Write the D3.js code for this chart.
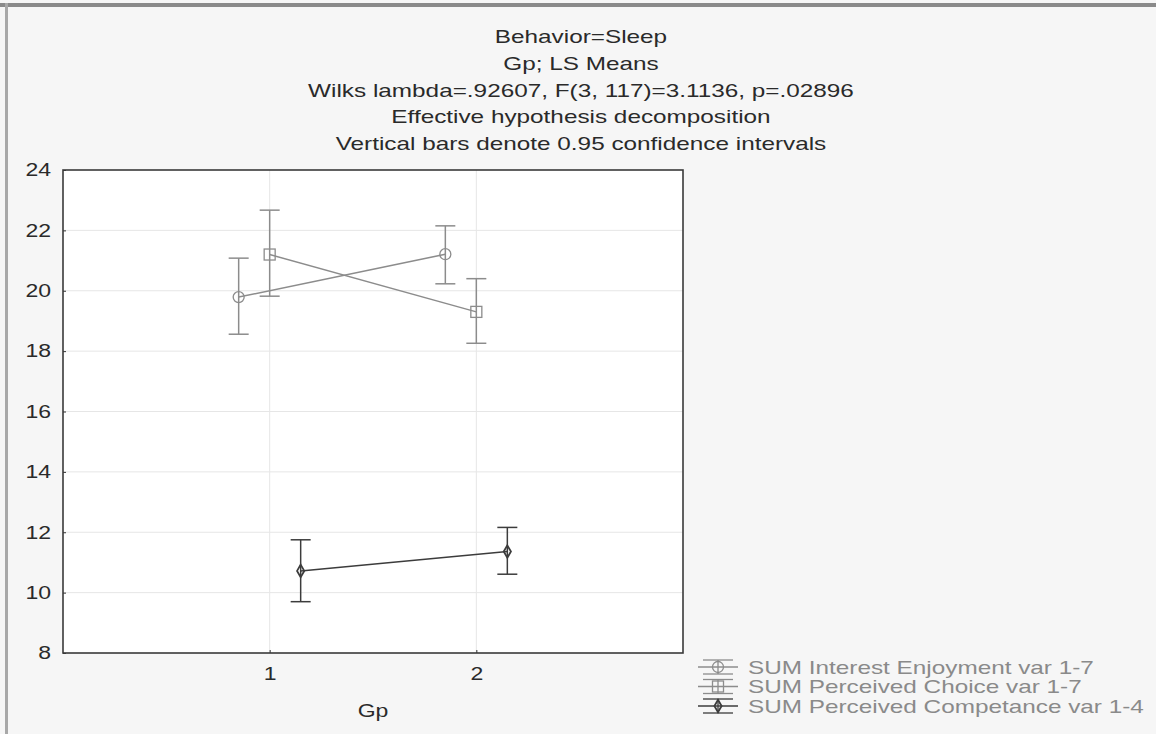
<!DOCTYPE html>
<html>
<head>
<meta charset="utf-8">
<script src="https://cdn.jsdelivr.net/npm/d3@7"></script>
<style>
  body { margin: 0; background: #f6f6f6; }
  svg { display: block; font-family: "Liberation Sans", Arial, sans-serif; }
</style>
</head>
<body>
<div id="chart"></div>
<script>
// LS means by group, with 0.95 confidence limits
const groups = [1, 2];
const seriesNames = ["SUM Interest Enjoyment var 1-7", "SUM Perceived Choice var 1-7", "SUM Perceived Competance var 1-4"];
const interestMean = [19.79, 21.21];
const interestLow = [18.56, 20.23];
const interestHigh = [21.08, 22.15];
const choiceMean = [21.20, 19.30];
const choiceLow = [19.82, 18.26];
const choiceHigh = [22.67, 20.40];
const compMean = [10.72, 11.36];
const compLow = [9.70, 10.61];
const compHigh = [11.75, 12.16];
const yTicks = [8, 10, 12, 14, 16, 18, 20, 22, 24];
const titleLines = [
  "Behavior=Sleep",
  "Gp; LS Means",
  "Wilks lambda=.92607, F(3, 117)=3.1136, p=.02896",
  "Effective hypothesis decomposition",
  "Vertical bars denote 0.95 confidence intervals"
];

const W = 1156, H = 734;
const margin = {top: 170, right: 473, bottom: 81, left: 63};
const width = W - margin.left - margin.right;
const height = H - margin.top - margin.bottom;
const stretch = 1.28; // the picture's text is wider than it is tall

const series = [
  {name: seriesNames[0], mean: interestMean, lo: interestLow, hi: interestHigh, off: -0.15, shape: "circle", color: "#8c8c8c"},
  {name: seriesNames[1], mean: choiceMean, lo: choiceLow, hi: choiceHigh, off: 0, shape: "square", color: "#8c8c8c"},
  {name: seriesNames[2], mean: compMean, lo: compLow, hi: compHigh, off: 0.15, shape: "diamond", color: "#3c3c3c"}
];

// widen a text element around its own anchor point
function widen(sel, x) {
  sel.attr("x", x / stretch).attr("transform", "scale(" + stretch + ",1)");
}

const root = d3.select("#chart").append("svg")
  .attr("width", W).attr("height", H);

// outer frame
root.append("rect").attr("x", 0).attr("y", 0).attr("width", W).attr("height", H).attr("fill", "#f6f6f6");
root.append("rect").attr("x", 0).attr("y", 3).attr("width", W).attr("height", 4).attr("fill", "#8a8a8a");
root.append("rect").attr("x", 5).attr("y", 3).attr("width", 3).attr("height", H).attr("fill", "#a8a8a8");

// title
root.append("g").selectAll("text")
  .data(titleLines)
  .enter().append("text")
  .attr("y", (d, i) => 43 + i * 26.8)
  .attr("text-anchor", "middle")
  .attr("font-size", 19)
  .attr("fill", "#2a2a2a")
  .text(d => d)
  .call(widen, 581);

const svg = root.append("g")
  .attr("transform", "translate(" + margin.left + "," + margin.top + ")");

const xScale = d3.scaleLinear().domain([0, 3]).range([0, width]);
const yScale = d3.scaleLinear().domain([8, 24]).range([height, 0]);

svg.append("rect").attr("width", width).attr("height", height).attr("fill", "#ffffff");

// grid
svg.append("g").selectAll("line")
  .data(yTicks.slice(1, -1))
  .enter().append("line")
  .attr("x1", 0).attr("x2", width)
  .attr("y1", d => yScale(d)).attr("y2", d => yScale(d))
  .attr("stroke", "#e6e6e6");
svg.append("g").selectAll("line")
  .data(groups)
  .enter().append("line")
  .attr("y1", 0).attr("y2", height)
  .attr("x1", d => xScale(d)).attr("x2", d => xScale(d))
  .attr("stroke", "#e6e6e6");

// axes
const yAxis = svg.append("g")
  .call(d3.axisLeft(yScale).tickValues(yTicks).tickSize(-3).tickPadding(12));
const xAxis = svg.append("g")
  .attr("transform", "translate(0," + height + ")")
  .call(d3.axisBottom(xScale).tickValues(groups).tickSize(-3).tickPadding(14).tickFormat(d3.format("d")));
[yAxis, xAxis].forEach(a => {
  a.select(".domain").remove();
  a.selectAll("line").attr("stroke", "#333");
  a.selectAll("text").attr("font-size", 18).attr("fill", "#2a2a2a").attr("font-family", "Liberation Sans, Arial, sans-serif");
});
yAxis.selectAll("text").call(widen, -12);
xAxis.selectAll("text").call(widen, 0);

svg.append("rect").attr("width", width).attr("height", height)
  .attr("fill", "none").attr("stroke", "#3a3a3a").attr("stroke-width", 1.6);

svg.append("text")
  .attr("y", height + 64)
  .attr("text-anchor", "middle")
  .attr("font-size", 18)
  .attr("fill", "#2a2a2a")
  .text("Gp")
  .call(widen, xScale(1.5));

// markers
function drawMarker(g, shape, cx, cy, color) {
  if (shape === "circle") {
    g.append("circle").attr("cx", cx).attr("cy", cy).attr("r", 5.5)
      .attr("fill", "none").attr("stroke", color).attr("stroke-width", 1.3);
  } else if (shape === "square") {
    g.append("rect").attr("x", cx - 5.5).attr("y", cy - 5.5).attr("width", 11).attr("height", 11)
      .attr("fill", "none").attr("stroke", color).attr("stroke-width", 1.3);
  } else {
    g.append("path").attr("d", d3.symbol(d3.symbolDiamond, 45)())
      .attr("transform", "translate(" + cx + "," + cy + ")")
      .attr("fill", "none").attr("stroke", color).attr("stroke-width", 1.8);
  }
}

const line = d3.line();
series.forEach(s => {
  const g = svg.append("g");
  const pts = groups.map((gp, i) => [xScale(gp + s.off), yScale(s.mean[i])]);
  g.append("path").attr("d", line(pts)).attr("fill", "none")
    .attr("stroke", s.color).attr("stroke-width", 1.5);
  groups.forEach((gp, i) => {
    const cx = xScale(gp + s.off);
    g.append("line").attr("x1", cx).attr("x2", cx)
      .attr("y1", yScale(s.lo[i])).attr("y2", yScale(s.hi[i]))
      .attr("stroke", s.color).attr("stroke-width", 1.5);
    [s.lo[i], s.hi[i]].forEach(v => {
      g.append("line").attr("x1", cx - 10).attr("x2", cx + 10)
        .attr("y1", yScale(v)).attr("y2", yScale(v))
        .attr("stroke", s.color).attr("stroke-width", 1.5);
    });
    drawMarker(g, s.shape, cx, yScale(s.mean[i]), s.color);
  });
});

// legend
const legend = root.append("g").attr("transform", "translate(698,667)");
series.forEach((s, i) => {
  const row = legend.append("g").attr("transform", "translate(0," + (i * 19.5) + ")");
  row.append("line").attr("x1", 0).attr("x2", 40).attr("y1", 0).attr("y2", 0)
    .attr("stroke", s.color).attr("stroke-width", 1.3);
  [-7, 7].forEach(dy => {
    row.append("line").attr("x1", 5).attr("x2", 35).attr("y1", dy).attr("y2", dy)
      .attr("stroke", s.color).attr("stroke-width", 1.3);
  });
  row.append("line").attr("x1", 20).attr("x2", 20).attr("y1", -7).attr("y2", 7)
    .attr("stroke", s.color).attr("stroke-width", 1.3);
  drawMarker(row, s.shape, 20, 0, s.color);
  row.append("text").attr("y", 6.5)
    .attr("font-size", 19).attr("fill", "#8a8a8a")
    .text(s.name)
    .call(widen, 50);
});
</script>
</body>
</html>
